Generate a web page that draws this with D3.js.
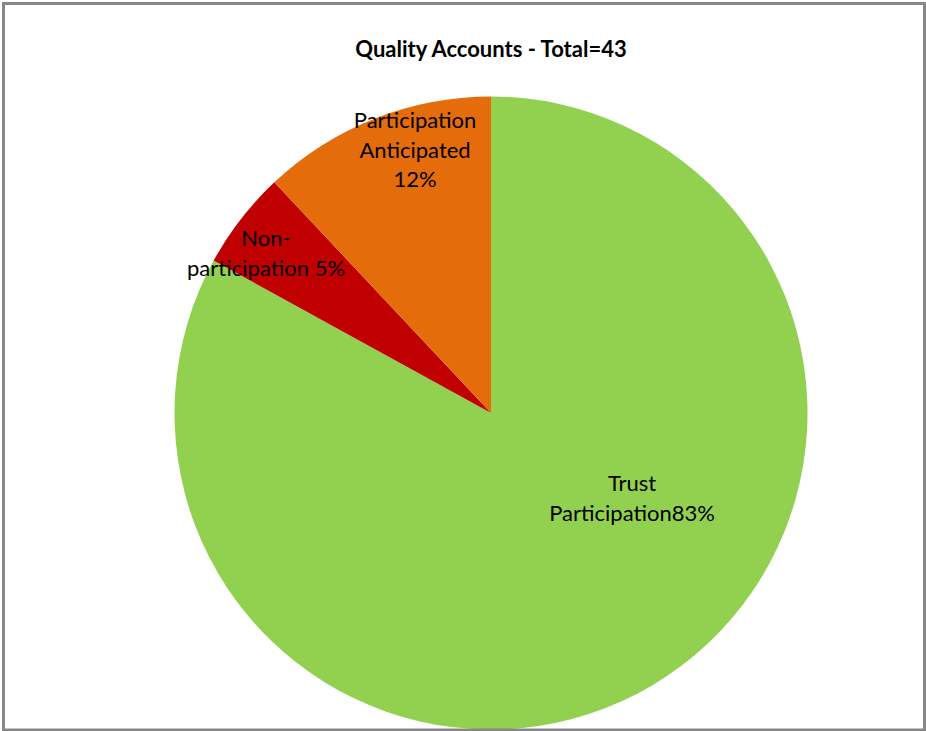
<!DOCTYPE html>
<html lang="en">
<head>
    <meta charset="UTF-8">
    <title>Quality Accounts - Total=43</title>
    <script src="https://cdnjs.cloudflare.com/ajax/libs/d3/7.8.5/d3.min.js"></script>
    <style>
        body {
            margin: 0;
            background: #fff;
        }
        svg {
            display: block;
            font-family: Lato, "Open Sans", sans-serif;
        }
    </style>
</head>
<body>
    <svg id="chart" width="926" height="731"></svg>

    <script>
        // Chart data (percent of 43 trusts)
        const categories = ["Trust Participation", "Non-participation", "Participation Anticipated"];
        const values = [83, 5, 12];
        const colors = ["#92D050", "#C00000", "#E46C0A"];
        // label text per slice, {p} gets replaced by the percent
        const labelLines = [
            ["Trust", "Participation{p}"],
            ["Non-", "participation {p}"],
            ["Participation", "Anticipated", "{p}"]
        ];
        const title = "Quality Accounts - Total=43";

        const width = 926, height = 731;
        const cx = 491, cy = 413, radius = 316.5;

        const svg = d3.select("#chart");

        // Title
        svg.append("text")
            .attr("x", cx)
            .attr("y", 57)
            .attr("text-anchor", "middle")
            .attr("font-weight", "bold")
            .attr("font-size", "22px")
            .attr("fill", "#000")
            .text(title);

        const g = svg.append("g").attr("transform", `translate(${cx},${cy})`);

        const pie = d3.pie()
            .sort(null)
            .value(d => d.value);

        const arcs = pie(categories.map((c, i) => ({ name: c, value: values[i], color: colors[i], lines: labelLines[i] })));

        const arc = d3.arc().innerRadius(0).outerRadius(radius);

        g.selectAll("path")
            .data(arcs)
            .enter()
            .append("path")
            .attr("d", arc)
            .attr("fill", d => d.data.color);

        // label placement like Excel's "best fit": angle shift (deg) from slice middle, radius fraction
        const labelPlace = [[-28.2, 0.521], [-2.4, 0.872], [5.5, 0.865]];
        const lineH = 29.5;

        const labels = g.selectAll("text.label")
            .data(arcs)
            .enter()
            .append("text")
            .attr("class", "label")
            .attr("text-anchor", "middle")
            .attr("font-size", "22px")
            .attr("fill", "#000")
            .attr("transform", (d, i) => {
                const a = (d.startAngle + d.endAngle) / 2 + labelPlace[i][0] * Math.PI / 180;
                const r = radius * labelPlace[i][1];
                return `translate(${r * Math.sin(a)},${-r * Math.cos(a)})`;
            });

        labels.each(function(d) {
            const lines = d.data.lines.map(s => s.replace("{p}", d.data.value + "%"));
            const top = -(lines.length - 1) * lineH / 2;
            d3.select(this).selectAll("tspan")
                .data(lines)
                .enter()
                .append("tspan")
                .attr("x", 0)
                .attr("y", (s, j) => top + j * lineH)
                .attr("dy", "0.35em")
                .text(s => s);
        });

        // chart frame
        svg.append("rect")
            .attr("x", 3.5)
            .attr("y", 3.5)
            .attr("width", width - 5)
            .attr("height", height - 4.5)
            .attr("fill", "none")
            .attr("stroke", "#878787")
            .attr("stroke-width", 3);
    </script>
</body>
</html>
